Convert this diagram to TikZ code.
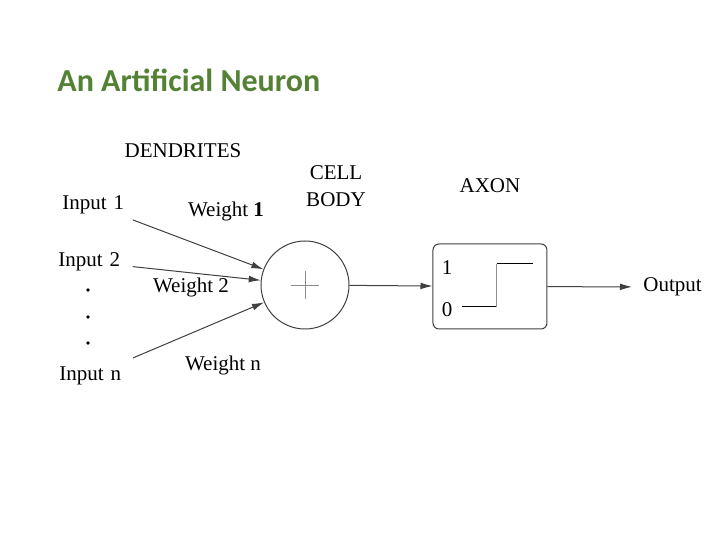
\documentclass[tikz,border=0pt]{standalone}
\usepackage{fontspec}
\setmainfont{Liberation Serif}
\newfontfamily\titlefont{Carlito}
\usetikzlibrary{calc, arrows.meta}
\definecolor{titlegreen}{RGB}{84,130,53}

\begin{document}
\begin{tikzpicture}[x=0.5pt, y=-0.5pt,
    every node/.style={font=\fontsize{10.5}{13.5}\selectfont, inner sep=0pt},
    wire/.style={draw=black!75, line width=0.5pt, -{Latex[length=6pt,width=3.4pt]}},
    inlabel/.style={anchor=west, text width=31pt, align=left}]
    \path[fill=white] (0,0) rectangle (720,540);

    \node[anchor=west, text=titlegreen,
        font=\titlefont\bfseries\fontsize{16}{18}\selectfont] (title) at (57,80)
        {An Artificial Neuron};

    \node (dend) at (183,151) {DENDRITES};
    \node[align=center] (cell) at (336,186) {CELL\\BODY};
    \node (axon) at (490,186) {AXON};

    \node[inlabel] (in1) at (62,205) {Input 1};
    \node[inlabel] (in2) at (58,262) {Input 2};
    \node[inlabel] (inn) at (59,376) {Input n};
    \foreach \y [count=\i] in {290,317,343}
        \node[circle, fill, minimum size=1.8pt] (dot\i) at (88,\y) {};

    \node[circle, draw=black!75, line width=0.5pt, minimum size=44pt] (body) at (305,285) {};
    \draw[black!45] ($(body.center)+(-14,0)$) -- ($(body.center)+(14,0)$);
    \draw[black!45] ($(body.center)+(0,-14)$) -- ($(body.center)+(0,14)$);

    \node (w1) at (226,211) {Weight \textbf{1}};
    \node (w2) at (191,287) {Weight 2};
    \node (wn) at (223,365) {Weight n};

    \draw[wire, shorten <=7.5pt] (in1) -- (body);
    \draw[wire, shorten <=6pt] (in2) -- (body);
    \draw[wire, shorten <=11pt] (inn) -- (body);

    \node[draw=black!75, line width=0.5pt, rounded corners=3pt,
        minimum width=57pt, minimum height=42.5pt] (box) at (490,286.5) {};
    \node (one) at (447,268) {1};
    \node (zero) at (447,310) {0};
    \draw[line width=0.5pt] (462,307) -- (497,307);
    \draw[black!45, line width=0.5pt] (497,307) -- (497,264);
    \draw[line width=0.5pt] (497,264) -- (533,264);

    \node[anchor=west] (out) at (643,287) {Output};
    \draw[wire] (body) -- (box);
    \draw[wire, shorten >=5.5pt] (box) -- (out);
\end{tikzpicture}
\end{document}
